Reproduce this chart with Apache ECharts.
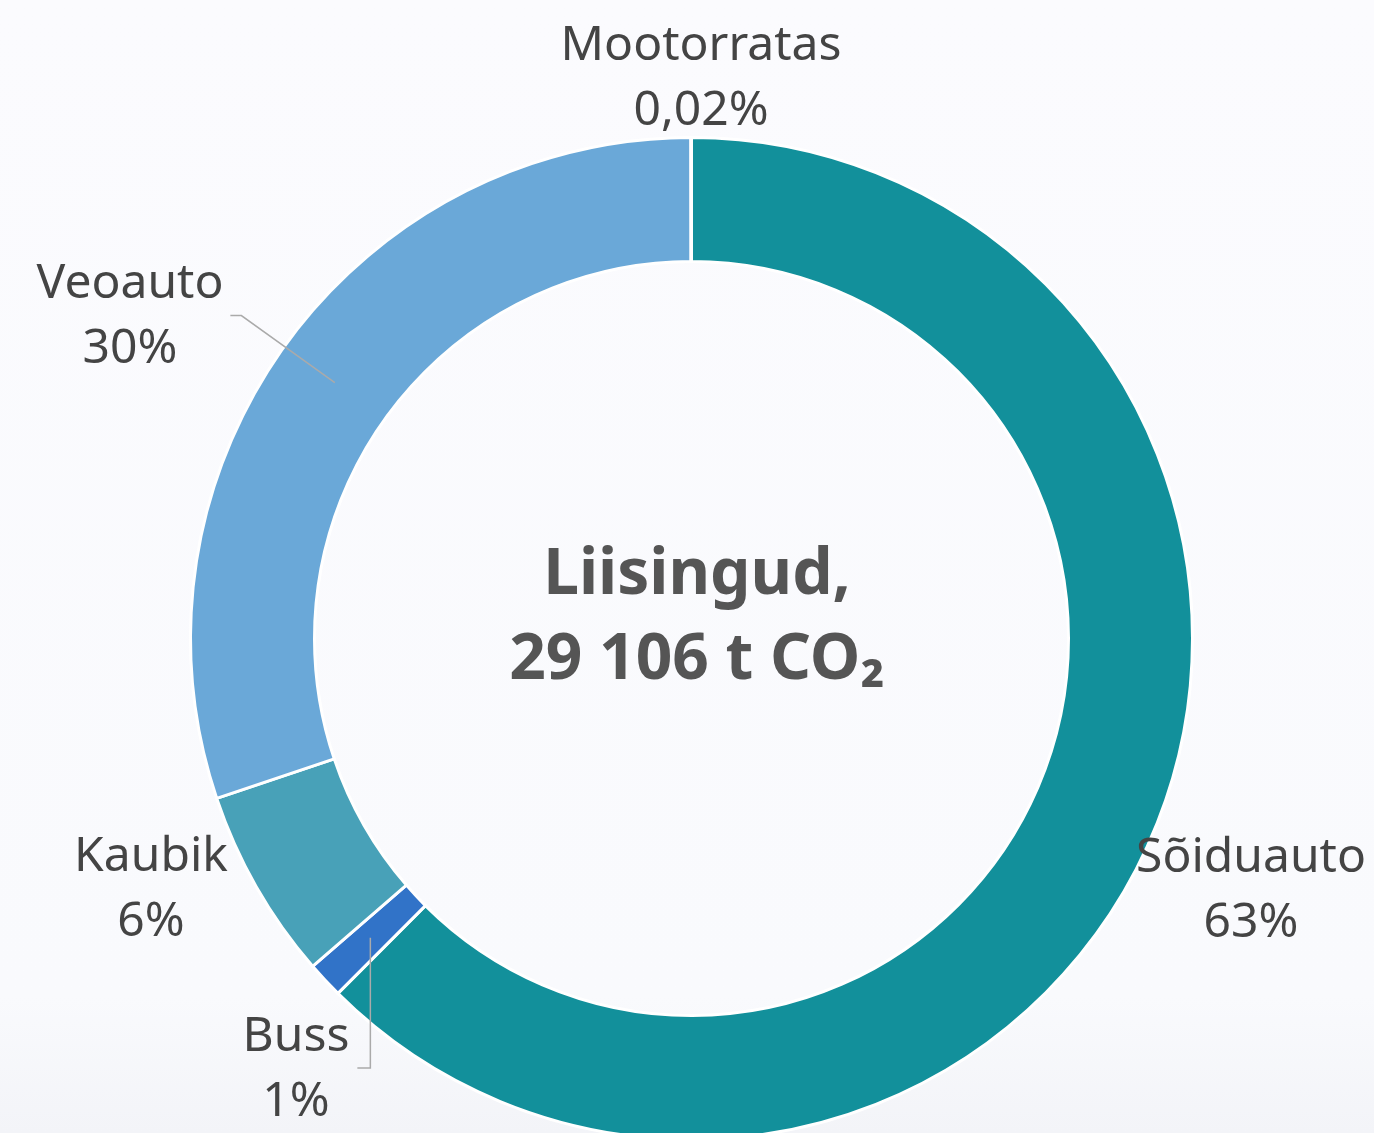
<!DOCTYPE html>
<html>
<head>
<meta charset="utf-8">
<title>Liisingud</title>
<script src="https://cdn.jsdelivr.net/npm/echarts@6/dist/echarts.min.js"></script>
<style>
  html, body { margin: 0; padding: 0; }
  #chart {
    width: 1374px;
    height: 1133px;
    background: linear-gradient(180deg, #fbfbfe 0%, #f9fafd 88%, #f3f4f8 100%);
  }
</style>
</head>
<body>
<div id="chart"></div>
<script>
// vehicle types, clockwise from 12 o'clock
var categories = ['Sõiduauto', 'Buss', 'Kaubik', 'Veoauto', 'Mootorratas'];
// share of emissions, %
var shares = [62.47, 1.18, 6.18, 30.15, 0.02];
// share as printed on the label
var shareLabels = ['63%', '1%', '6%', '30%', '0,02%'];
var colors = ['#12909b', '#3173c8', '#48a1b8', '#6aa8d8', '#2b4f7a'];

var totalLabel = 'Liisingud,\n29 106 t CO\u2082';

// label block centres (px)
var labelCenters = [[1251, 891], [296, 1070], [151, 890], [130, 317], [701, 79]];
// which labels get a guide line
var withLine = { 'Veoauto': true, 'Buss': true };

var chart = echarts.init(document.getElementById('chart'));

var ringData = categories.map(function (name, i) {
  return { name: name, value: shares[i], itemStyle: { color: colors[i] } };
});

var labelData = categories.map(function (name, i) {
  return {
    name: name,
    value: shares[i],
    labelLine: { show: !!withLine[name], length: 115, length2: 11 }
  };
});

var option = {
  animation: false,
  graphic: [{
    type: 'text',
    x: 697,
    y: 618,
    style: {
      text: totalLabel,
      fontFamily: 'Noto Sans',
      fontWeight: 'bold',
      fontSize: 64,
      lineHeight: 85,
      fill: '#555555',
      align: 'center',
      verticalAlign: 'middle'
    }
  }],
  series: [
    {
      // the ring itself
      type: 'pie',
      z: 1,
      center: [691.5, 638.5],
      radius: [377, 501],
      silent: true,
      label: { show: false },
      labelLine: { show: false },
      itemStyle: { borderColor: '#ffffff', borderWidth: 3 },
      data: ringData
    },
    {
      // invisible pie out to mid-ring, only carries labels + guide lines
      type: 'pie',
      z: 5,
      center: [691.5, 638.5],
      radius: [0, 439],
      silent: true,
      avoidLabelOverlap: false,
      itemStyle: { color: 'rgba(0,0,0,0)' },
      label: {
        show: true,
        position: 'outside',
        fontFamily: 'Noto Sans',
        fontSize: 48,
        lineHeight: 65,
        color: '#444444',
        formatter: function (p) {
          return p.name + '\n' + shareLabels[p.dataIndex];
        }
      },
      labelLine: {
        lineStyle: { color: '#aaaaaa', width: 1.5 }
      },
      labelLayout: function (p) {
        var i = p.dataIndex;
        var c = labelCenters[i];
        var out = { x: c[0], y: c[1], align: 'center', verticalAlign: 'middle' };
        var pts = p.labelLinePoints;
        if (pts) {
          if (categories[i] === 'Buss') {
            var a = pts[0];
            out.labelLinePoints = [a, [a[0], c[1] - 2], [a[0] - 13, c[1] - 2]];
          } else {
            out.labelLinePoints = pts;
          }
        }
        return out;
      },
      data: labelData
    }
  ]
};

chart.setOption(option);
</script>
</body>
</html>
